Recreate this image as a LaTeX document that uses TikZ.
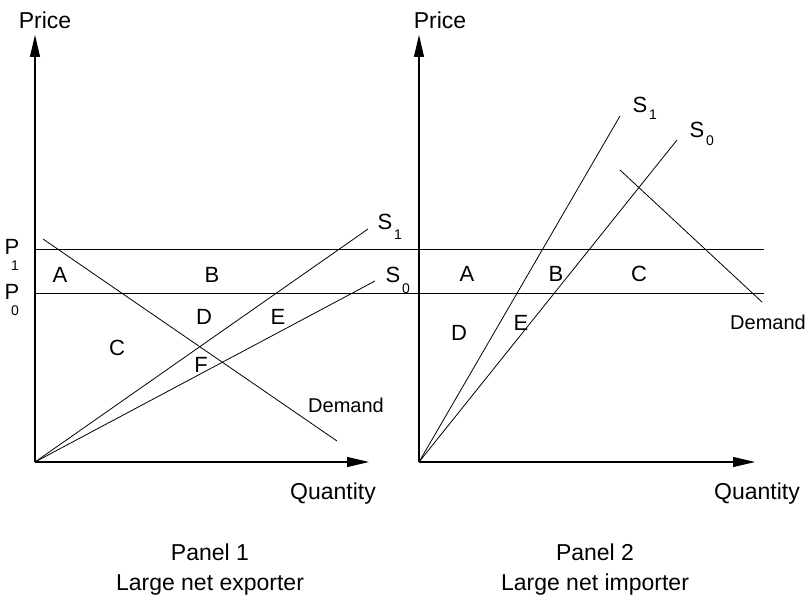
\documentclass[tikz,border=0pt]{standalone}
\usepackage{fontspec}
\setmainfont{Liberation Sans}
\usetikzlibrary{arrows.meta}
\begin{document}
\begin{tikzpicture}[x=1pt,y=-1pt,
  axisline/.style={line width=1.1pt,-{Triangle[length=22pt,width=10pt]}},
  thin/.style={line width=0.8pt},
  big/.style={font=\fontsize{23}{26}\selectfont,inner sep=0pt},
  lbl/.style={font=\fontsize{22}{24}\selectfont,inner sep=0pt},
  dem/.style={font=\fontsize{20}{22}\selectfont,inner sep=0pt},
  subs/.style={font=\fontsize{14}{15}\selectfont,inner sep=0pt}]
\useasboundingbox (0,0) rectangle (809,599);
% coordinates panel 1
\coordinate (O1) at (35,462);
\coordinate (Y1) at (35,35);
\coordinate (X1) at (369,462);
% panel 2
\coordinate (O2) at (419,462);
\coordinate (Y2) at (419,35);
\coordinate (X2) at (755,462);
% price lines
\coordinate (P1a) at (35,249);
\coordinate (P1b) at (764,249);
\coordinate (P0a) at (35,293);
\coordinate (P0b) at (764,293);
% panel 1 curves
\coordinate (D1a) at (43,239);
\coordinate (D1b) at (337,441);
\coordinate (S1e) at (368,229);
\coordinate (S0e) at (375,281);
% panel 2 curves
\coordinate (T1e) at (620,116);
\coordinate (T0e) at (677,140);
\coordinate (D2a) at (620,170);
\coordinate (D2b) at (762,302);

\draw[axisline] (O1) -- (Y1);
\draw[axisline] (O1) -- (X1);
\draw[axisline] (O2) -- (Y2);
\draw[axisline] (O2) -- (X2);
\draw[thin] (P1a) -- (P1b);
\draw[thin] (P0a) -- (P0b);
\draw[thin] (D1a) -- (D1b);
\draw[thin] (O1) -- (S1e);
\draw[thin] (O1) -- (S0e);
\draw[thin] (O2) -- (T1e);
\draw[thin] (O2) -- (T0e);
\draw[thin] (D2a) -- (D2b);

% axis labels
\node[big,anchor=base] (pr1) at (45,29) {Price};
\node[big,anchor=base] (pr2) at (440,29) {Price};
\node[big,anchor=base] (q1) at (333,499) {Quantity};
\node[big,anchor=base] (q2) at (757,499) {Quantity};
\node[lbl] (pp1) at (12,247) {P};
\node[subs] (pp1s) at (15,266) {1};
\node[lbl] (pp0) at (12,292) {P};
\node[subs] (pp0s) at (15,311) {0};
% panel 1 labels
\node[lbl] (a1) at (60,275) {A};
\node[lbl] (b1) at (212,275) {B};
\node[lbl] (c1) at (117,348) {C};
\node[lbl] (d1) at (204,317) {D};
\node[lbl] (e1) at (278,317) {E};
\node[lbl] (f1) at (201,365) {F};
\node[dem] (dm1) at (346,405) {Demand};
\node[lbl] (s1) at (385,222) {S};
\node[subs] (s1s) at (398,235) {1};
\node[lbl] (s0) at (393,275) {S};
\node[subs] (s0s) at (406,289) {0};
% panel 2 labels
\node[lbl] (a2) at (467,274) {A};
\node[lbl] (b2) at (556,274) {B};
\node[lbl] (c2) at (639,274) {C};
\node[lbl] (d2) at (459,333) {D};
\node[lbl] (e2) at (521,323) {E};
\node[dem] (dm2) at (768,322) {Demand};
\node[lbl] (t1) at (640,105) {S};
\node[subs] (t1s) at (653,115) {1};
\node[lbl] (t0) at (697,130) {S};
\node[subs] (t0s) at (710,141) {0};
% panel titles
\node[big,anchor=base] (pn1) at (210,560) {Panel 1};
\node[big,anchor=base] (ln1) at (210,590) {Large net exporter};
\node[big,anchor=base] (pn2) at (595,560) {Panel 2};
\node[big,anchor=base] (ln2) at (595,590) {Large net importer};
\end{tikzpicture}
\end{document}
